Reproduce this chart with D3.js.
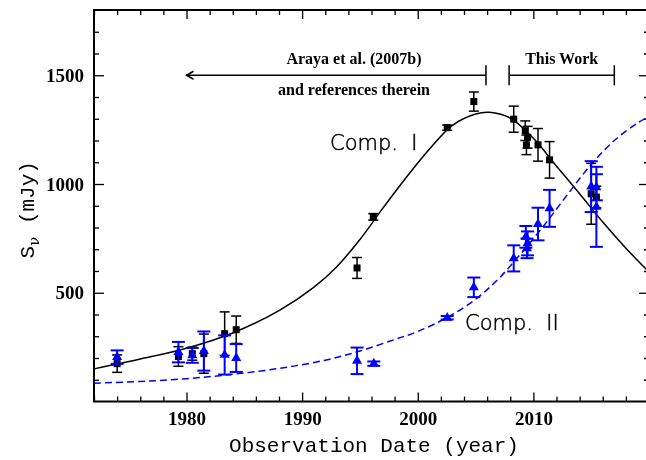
<!DOCTYPE html>
<html>
<head>
<meta charset="utf-8">
<script src="https://cdn.jsdelivr.net/npm/d3@7"></script>
<style>
  html, body { margin: 0; padding: 0; background: #fff; }
  svg { display: block; will-change: transform; }
</style>
</head>
<body>
<svg id="chart" width="646" height="460"></svg>
<script>
// Component I (black squares): epoch, flux density (mJy), 1-sigma error
const compIYears = [1974.0, 1979.3, 1980.5, 1981.5, 1983.3, 1984.3, 1994.75, 1996.15, 2002.55, 2004.85, 2008.3, 2009.3, 2009.5, 2009.4, 2010.4, 2011.4, 2015.0, 2015.45];
const compIFlux  = [174, 207, 220, 220, 312, 330, 614, 849, 1259, 1379, 1298, 1245, 1215, 1180, 1180, 1111, 955, 940];
const compIErr   = [40, 45, 30, 90, 100, 63, 48, 15, 12, 44, 60, 45, 50, 45, 75, 84, 140, 50];

// Component II (blue triangles)
const compIIYears = [1974.0, 1979.3, 1980.5, 1981.5, 1983.3, 1984.3, 1994.75, 1996.2, 2002.55, 2004.85, 2008.3, 2009.35, 2009.5, 2009.45, 2010.4, 2011.4, 2015.0, 2015.45, 2015.45];
const compIIFlux  = [204, 227, 212, 232, 214, 200, 187, 174, 385, 525, 658, 757, 727, 704, 816, 888, 988, 985, 895];
const compIIErr   = [31, 47, 34, 90, 90, 64, 61, 10, 8, 45, 60, 50, 55, 45, 75, 85, 117, 60, 184];

// Model light curves
const modelIYears = [1972, 1976, 1980, 1984, 1988, 1991, 1993, 1995, 1997, 1999, 2001, 2003, 2005, 2006.2, 2008, 2010, 2012, 2014, 2016, 2018, 2020];
const modelIFlux  = [150, 195, 245, 315, 418, 525, 620, 745, 890, 1030, 1160, 1270, 1322, 1330, 1303, 1210, 1082, 955, 825, 705, 595];
const modelIIYears = [1972, 1976, 1980, 1984, 1988, 1992, 1995, 1998, 2000, 2002.5, 2005, 2007, 2009, 2011, 2013, 2015, 2017, 2019, 2020];
const modelIIFlux  = [84, 92, 105, 125, 152, 190, 232, 285, 322, 385, 470, 565, 685, 815, 955, 1090, 1200, 1280, 1310];

// Axis ticks
const xMajorTicks = [1980, 1990, 2000, 2010];
const xMinorTicks = d3.range(1972, 2021, 2).filter(d => d % 10 !== 0);
const yMajorTicks = [500, 1000, 1500];
const yMinorTicks = d3.range(100, 1800, 100).filter(d => d % 500 !== 0);

const plotLeft = 94, plotRight = 649, plotTop = 10, plotBottom = 401.5;

const svg = d3.select("#chart");
const x = d3.scaleLinear().domain([1972, 2020]).range([plotLeft, plotRight]);
const y = d3.scaleLinear().domain([0, 1800]).range([plotBottom, plotTop]);

const tickFont = "'Liberation Serif', serif";

// ---- axes (ticks point inward on all four sides) ----
function styleAxis(g) {
  g.select(".domain").remove();
  g.selectAll(".tick line").attr("stroke", "#000").attr("stroke-width", 1.3);
  g.selectAll(".tick text").attr("font-family", tickFont).attr("font-weight", "bold")
    .attr("font-size", 19).attr("fill", "#000");
}

svg.append("g").attr("transform", `translate(0,${plotBottom})`)
  .call(d3.axisBottom(x).tickValues(xMajorTicks).tickSizeInner(-9).tickSizeOuter(0).tickPadding(10).tickFormat(d3.format("d")))
  .call(styleAxis);
svg.append("g").attr("transform", `translate(0,${plotBottom})`)
  .call(d3.axisBottom(x).tickValues(xMinorTicks).tickSizeInner(-5).tickSizeOuter(0).tickFormat(""))
  .call(styleAxis);
svg.append("g").attr("transform", `translate(0,${plotTop})`)
  .call(d3.axisTop(x).tickValues(xMajorTicks).tickSizeInner(-9).tickSizeOuter(0).tickFormat(""))
  .call(styleAxis);
svg.append("g").attr("transform", `translate(0,${plotTop})`)
  .call(d3.axisTop(x).tickValues(xMinorTicks).tickSizeInner(-5).tickSizeOuter(0).tickFormat(""))
  .call(styleAxis);

svg.append("g").attr("transform", `translate(${plotLeft},0)`)
  .call(d3.axisLeft(y).tickValues(yMajorTicks).tickSizeInner(-10).tickSizeOuter(0).tickPadding(10).tickFormat(d3.format("d")))
  .call(styleAxis);
svg.append("g").attr("transform", `translate(${plotLeft},0)`)
  .call(d3.axisLeft(y).tickValues(yMinorTicks).tickSizeInner(-5).tickSizeOuter(0).tickFormat(""))
  .call(styleAxis);
svg.append("g").attr("transform", `translate(${plotRight},0)`)
  .call(d3.axisRight(y).tickValues(yMajorTicks).tickSizeInner(-10).tickSizeOuter(0).tickFormat(""))
  .call(styleAxis);
svg.append("g").attr("transform", `translate(${plotRight},0)`)
  .call(d3.axisRight(y).tickValues(yMinorTicks).tickSizeInner(-5).tickSizeOuter(0).tickFormat(""))
  .call(styleAxis);

// frame
svg.append("rect").attr("x", plotLeft).attr("y", plotTop)
  .attr("width", plotRight - plotLeft).attr("height", plotBottom - plotTop)
  .attr("fill", "none").attr("stroke", "#000").attr("stroke-width", 2);

// axis titles
svg.append("text")
  .attr("x", 374).attr("y", 452)
  .attr("text-anchor", "middle")
  .attr("font-family", "'Liberation Mono', monospace").attr("font-size", 21)
  .text("Observation Date (year)");

const yTitle = svg.append("text")
  .attr("transform", `translate(34,${(plotTop + plotBottom) / 2 + 4}) rotate(-90)`)
  .attr("text-anchor", "middle")
  .attr("font-family", "'Liberation Mono', monospace").attr("font-size", 21);
yTitle.append("tspan").text("S");
yTitle.append("tspan").attr("dy", 5).attr("font-size", 15).attr("font-family", "'DejaVu Serif', serif").text("ν");
yTitle.append("tspan").attr("dy", -5).text(" (mJy)");

// ---- model curves ----
const plot = svg.append("g");
const modelLine = d3.line().x(d => x(d[0])).y(d => y(d[1])).curve(d3.curveCatmullRom.alpha(0.5));

plot.append("path")
  .datum(d3.zip(modelIYears, modelIFlux))
  .attr("d", modelLine)
  .attr("fill", "none").attr("stroke", "#000").attr("stroke-width", 1.5);

plot.append("path")
  .datum(d3.zip(modelIIYears, modelIIFlux))
  .attr("d", modelLine)
  .attr("fill", "none").attr("stroke", "#0000ff").attr("stroke-width", 1.5)
  .attr("stroke-dasharray", "7,4");

// ---- data points with error bars ----
function drawSeries(years, flux, err, color, symbol, size, capHalf, barWidth) {
  const rows = d3.zip(years, flux, err);
  const g = plot.append("g");
  const bars = g.selectAll(".eb").data(rows).join("g").attr("class", "eb")
    .attr("stroke", color).attr("stroke-width", barWidth);
  bars.append("line")
    .attr("x1", d => x(d[0])).attr("x2", d => x(d[0]))
    .attr("y1", d => y(d[1] - d[2])).attr("y2", d => y(d[1] + d[2]));
  bars.append("line")
    .attr("x1", d => x(d[0]) - capHalf).attr("x2", d => x(d[0]) + capHalf)
    .attr("y1", d => y(d[1] + d[2])).attr("y2", d => y(d[1] + d[2]));
  bars.append("line")
    .attr("x1", d => x(d[0]) - capHalf).attr("x2", d => x(d[0]) + capHalf)
    .attr("y1", d => y(d[1] - d[2])).attr("y2", d => y(d[1] - d[2]));
  g.selectAll(".pt").data(rows).join("path").attr("class", "pt")
    .attr("transform", d => `translate(${x(d[0])},${y(d[1])})`)
    .attr("d", d3.symbol().type(symbol).size(size))
    .attr("fill", color);
}

drawSeries(compIYears, compIFlux, compIErr, "#000", d3.symbolSquare, 49, 5, 1.5);
drawSeries(compIIYears, compIIFlux, compIIErr, "#0000ff", d3.symbolTriangle, 44, 6.5, 2);

// ---- component labels ----
function compLabel(px, py, label) {
  svg.append("text").attr("x", px).attr("y", py)
    .attr("font-family", "'DejaVu Sans', sans-serif").attr("font-weight", 200).attr("font-size", 21)
    .attr("fill", "#000").attr("stroke", "#000").attr("stroke-width", 0.5)
    .style("white-space", "pre").text(label);
}
compLabel(330, 150, "Comp.  I");
compLabel(465, 330, "Comp.  II");

// ---- reference-period annotations ----
const annY = y(1500);
const ann = svg.append("g").attr("stroke", "#000").attr("stroke-width", 1.5).attr("fill", "none");
const arrowFrom = x(2005.9), arrowTo = x(1980);
ann.append("line").attr("x1", arrowFrom).attr("x2", arrowTo).attr("y1", annY).attr("y2", annY);
ann.append("path").attr("d", `M${arrowTo + 7},${annY - 4}L${arrowTo},${annY}L${arrowTo + 7},${annY + 4}`);
ann.append("line").attr("x1", arrowFrom).attr("x2", arrowFrom).attr("y1", annY - 10).attr("y2", annY + 10);

const workFrom = x(2007.9), workTo = x(2017.0);
ann.append("line").attr("x1", workFrom).attr("x2", workTo).attr("y1", annY).attr("y2", annY);
ann.append("line").attr("x1", workFrom).attr("x2", workFrom).attr("y1", annY - 10).attr("y2", annY + 10);
ann.append("line").attr("x1", workTo).attr("x2", workTo).attr("y1", annY - 10).attr("y2", annY + 10);

const annFamily = "'Liberation Serif', serif", annSize = 16;
svg.append("text").attr("x", 354).attr("y", 64).attr("text-anchor", "middle")
  .attr("font-family", annFamily).attr("font-weight", "bold").attr("font-size", annSize)
  .text("Araya et al. (2007b)");
svg.append("text").attr("x", 354).attr("y", 95).attr("text-anchor", "middle")
  .attr("font-family", annFamily).attr("font-weight", "bold").attr("font-size", annSize)
  .text("and references therein");
svg.append("text").attr("x", (workFrom + workTo) / 2).attr("y", 64).attr("text-anchor", "middle")
  .attr("font-family", annFamily).attr("font-weight", "bold").attr("font-size", annSize)
  .text("This Work");
</script>
</body>
</html>
